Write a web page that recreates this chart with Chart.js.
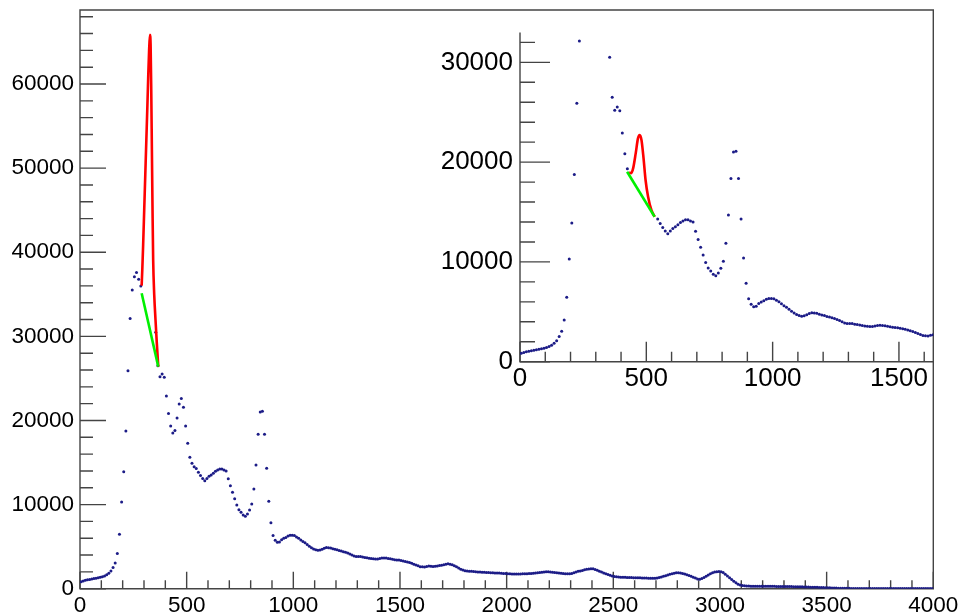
<!DOCTYPE html>
<html><head><meta charset="utf-8">
<script src="https://cdn.jsdelivr.net/npm/chart.js@4.4.0/dist/chart.umd.min.js"></script>
<style>
html,body{margin:0;padding:0;background:#fff;}
#wrap{position:relative;width:960px;height:615px;overflow:hidden;background:#fff;}
#main{position:absolute;left:0;top:0;}
#inset{position:absolute;left:420px;top:0;}
</style></head><body>
<div id="wrap"><canvas id="main" width="960" height="615"></canvas><canvas id="inset" width="540" height="400"></canvas></div>
<script>
// ---- data (bin width 10, bins from 0 to 4000) ----
const binStart = 0;
const binWidth = 10;
const counts = [
  840, 920, 990, 1050, 1100, 1150, 1200, 1250, 1300, 1360,
  1430, 1520, 1650, 1840, 2100, 2530, 3060, 4190, 6470, 10300,
  13900, 18750, 25900, 32130, 35500, 37100, 37600, 36800, 36000, null,
  null, null, null, null, null, 30500, 26500, 25200, 25520, 25150,
  22920, 20840, 19340, 18500, 18800, 20300, 21960, 22600, 21570, 19350,
  17290, 15620, 14900, 14500, 14300, 13850, 13450, 13090, 12830, 13100,
  13360, 13520, 13720, 13950, 14110, 14230, 14230, 14110, 13990, 13080,
  12250, 11460, 10700, 9950, 9400, 9080, 8770, 8610, 8890, 9360,
  10070, 11860, 14710, 18360, 21020, 21100, 18360, 14310, 10390, 7850,
  6310, 5750, 5510, 5550, 5830, 5990, 6100, 6260, 6340, 6340,
  6320, 6150, 6000, 5800, 5600, 5450, 5250, 5050, 4870, 4720,
  4620, 4560, 4600, 4700, 4820, 4900, 4880, 4850, 4750, 4680,
  4620, 4540, 4480, 4400, 4320, 4230, 4120, 4000, 3880, 3820,
  3830, 3820, 3760, 3720, 3680, 3620, 3580, 3560, 3530, 3540,
  3580, 3640, 3660, 3640, 3600, 3560, 3500, 3450, 3420, 3400,
  3360, 3300, 3240, 3180, 3100, 3020, 2920, 2820, 2720, 2620,
  2600, 2580, 2640, 2700, 2660, 2640, 2670, 2710, 2750, 2800,
  2850, 2920, 2960, 2920, 2840, 2720, 2600, 2460, 2320, 2220,
  2140, 2100, 2080, 2060, 2040, 2020, 2000, 1990, 1970, 1950,
  1930, 1920, 1900, 1890, 1880, 1870, 1860, 1840, 1820, 1800,
  1780, 1770, 1760, 1750, 1750, 1750, 1760, 1770, 1780, 1790,
  1800, 1820, 1840, 1870, 1900, 1930, 1960, 1990, 2010, 2020,
  1990, 1960, 1930, 1900, 1870, 1840, 1810, 1790, 1790, 1790,
  1820, 1900, 1990, 2060, 2110, 2170, 2240, 2300, 2350, 2380,
  2360, 2280, 2180, 2080, 1980, 1880, 1780, 1680, 1590, 1510,
  1450, 1410, 1390, 1370, 1360, 1350, 1340, 1330, 1320, 1310,
  1310, 1300, 1290, 1280, 1270, 1260, 1250, 1240, 1230, 1240,
  1280, 1330, 1400, 1470, 1550, 1640, 1720, 1790, 1850, 1890,
  1900, 1880, 1820, 1750, 1660, 1560, 1470, 1370, 1260, 1160,
  1120, 1200, 1320, 1480, 1640, 1780, 1900, 1990, 2030, 2040,
  2020, 1920, 1720, 1500, 1300, 1100, 900, 700, 540, 430,
  370, 340, 320, 310, 300, 300, 290, 290, 290, 290,
  290, 280, 280, 280, 280, 280, 270, 270, 270, 260,
  260, 260, 250, 250, 240, 240, 230, 230, 220, 210,
  200, 190, 180, 170, 160, 160, 150, 140, 130, 120,
  110, 100, 90, 80, 70, 60, 55, 50, 45, 40,
  40, 35, 35, 30, 30, 30, 25, 25, 25, 25,
  20, 20, 20, 20, 20, 20, 20, 20, 20, 20,
  20, 20, 15, 15, 15, 15, 15, 15, 15, 15,
  15, 15, 15, 15, 15, 10, 10, 10, 10, 10
];

// main-pad fit (peak + linear background)
const mainFitX = [289, 292, 296, 301, 306, 311, 316, 320, 324, 328, 331, 334, 337, 340, 343, 348, 354, 360, 367];
const mainFitY = [36030, 37900, 40870, 45030, 49190, 53350, 57500, 61070, 64040, 65840, 64640, 59290, 52170, 45030, 39080, 34920, 31950, 29220, 26400];
const mainBgX = [289, 367];
const mainBgY = [35130, 26400];

// inset fit
const insetFitX = [432, 440, 448, 458, 467, 474, 481, 489, 497, 507, 520, 533];
const insetFitY = [18950, 18900, 19400, 20880, 22380, 22720, 22200, 20400, 18210, 16530, 15200, 14530];
const insetBgX = [424, 533];
const insetBgY = [19040, 14530];
const insetFitRange = [430, 540];

// axes
const mainXRange = [0, 4000];
const mainYRange = [0, 68800];
const mainXTicks = [0, 500, 1000, 1500, 2000, 2500, 3000, 3500, 4000];
const mainYTicks = [0, 10000, 20000, 30000, 40000, 50000, 60000];
const insetXRange = [0, 1636];
const insetYRange = [0, 33000];
const insetXTicks = [0, 500, 1000, 1500];
const insetYTicks = [0, 10000, 20000, 30000];

// ---- drawing ----
const FONT = "'Liberation Sans', Arial, Helvetica, sans-serif";
const DOT = 'rgb(28,28,135)';

function histPoints(filterFn) {
  const pts = [];
  counts.forEach((c, i) => {
    if (c === null) return;
    const x = binStart + (i + 0.5) * binWidth;
    if (filterFn && !filterFn(x, c)) return;
    pts.push({x: x, y: c});
  });
  return pts;
}
function zipXY(xs, ys) { return xs.map((x, i) => ({x: x, y: ys[i]})); }

const rootAxes = {
  id: 'rootAxes',
  beforeDatasetsDraw(chart, args, o) {
    const ctx = chart.ctx, xs = chart.scales.x, ys = chart.scales.y, a = chart.chartArea;
    ctx.save();
    ctx.strokeStyle = o.color;
    ctx.lineWidth = o.lineWidth;
    ctx.lineCap = 'butt';
    ctx.beginPath();
    for (let v = xs.min; v <= xs.max + 1e-6; v += o.xMinor) {
      const px = xs.getPixelForValue(v);
      const major = Math.abs(v % o.xMajor) < 1e-6;
      const len = major ? o.xMajorLen : o.xMinorLen;
      ctx.moveTo(px, a.bottom); ctx.lineTo(px, a.bottom - len);
    }
    for (let v = ys.min; v <= ys.max + 1e-6; v += o.yMinor) {
      const py = ys.getPixelForValue(v);
      const major = Math.abs(v % o.yMajor) < 1e-6;
      const len = major ? o.yMajorLen : o.yMinorLen;
      ctx.moveTo(a.left, py); ctx.lineTo(a.left + len, py);
    }
    ctx.stroke();
    ctx.beginPath();
    if (o.frame) {
      ctx.rect(a.left, a.top, a.right - a.left, a.bottom - a.top);
    } else {
      ctx.moveTo(a.left, a.top); ctx.lineTo(a.left, a.bottom); ctx.lineTo(a.right, a.bottom);
    }
    ctx.stroke();
    ctx.restore();
  }
};

function makeChart(canvas, cfg) {
  return new Chart(canvas, {
    type: 'scatter',
    data: { datasets: [
      { data: zipXY(cfg.bgX, cfg.bgY), showLine: true, borderColor: 'rgb(0,240,0)', borderWidth: 2.6,
        pointRadius: 0, order: 0, clip: false },
      { data: zipXY(cfg.fitX, cfg.fitY), showLine: true, borderColor: 'rgb(255,0,0)', borderWidth: 2.6,
        pointRadius: 0, cubicInterpolationMode: 'monotone', order: 1, clip: false },
      { data: cfg.points, showLine: false, pointRadius: 1.5, pointBorderWidth: 0,
        backgroundColor: DOT, pointBackgroundColor: DOT, order: 2 }
    ]},
    options: {
      responsive: false, animation: false, devicePixelRatio: 1,
      layout: { padding: cfg.padding },
      plugins: { legend: {display: false}, tooltip: {enabled: false},
        rootAxes: cfg.axes },
      scales: {
        x: { type: 'linear', min: cfg.xRange[0], max: cfg.xRange[1],
          afterBuildTicks: s => { s.ticks = cfg.xTicks.map(v => ({value: v})); },
          afterFit: s => { s.height = cfg.xAxisH; s.paddingLeft = 0; s.paddingRight = 0; },
          grid: {display: false, drawTicks: false}, border: {display: false},
          ticks: { padding: cfg.xPad, color: '#000', font: {family: FONT, size: cfg.fontSize},
            maxRotation: 0, autoSkip: false, callback: v => String(v) } },
        y: { type: 'linear', min: cfg.yRange[0], max: cfg.yRange[1],
          afterBuildTicks: s => { s.ticks = cfg.yTicks.map(v => ({value: v})); },
          afterFit: s => { s.width = cfg.yAxisW; s.paddingTop = 0; s.paddingBottom = 0; },
          grid: {display: false, drawTicks: false}, border: {display: false},
          ticks: { padding: cfg.yPad, color: '#000', font: {family: FONT, size: cfg.fontSize},
            autoSkip: false, callback: v => String(v) } }
      }
    },
    plugins: [rootAxes]
  });
}

makeChart(document.getElementById('main'), {
  points: histPoints(),
  fitX: mainFitX, fitY: mainFitY, bgX: mainBgX, bgY: mainBgY,
  xRange: mainXRange, yRange: mainYRange, xTicks: mainXTicks, yTicks: mainYTicks,
  padding: {left: 0, top: 10, right: 26.7, bottom: 0},
  xAxisH: 26.3, yAxisW: 80, xPad: 4, yPad: 6, fontSize: 22.5,
  axes: { color: '#444', lineWidth: 1.4, frame: true,
    xMajor: 500, xMinor: 100, xMajorLen: 17, xMinorLen: 8.5,
    yMajor: 10000, yMinor: 2000, yMajorLen: 26, yMinorLen: 13 }
});

makeChart(document.getElementById('inset'), {
  points: histPoints((x, c) => c <= insetYRange[1] && x <= insetXRange[1] &&
    !(x >= insetFitRange[0] && x <= insetFitRange[1])),
  fitX: insetFitX, fitY: insetFitY, bgX: insetBgX, bgY: insetBgY,
  xRange: insetXRange, yRange: insetYRange, xTicks: insetXTicks, yTicks: insetYTicks,
  padding: {left: 0, top: 32.4, right: 26.7, bottom: 0},
  xAxisH: 38.3, yAxisW: 100, xPad: 2, yPad: 7, fontSize: 26,
  axes: { color: '#444', lineWidth: 1.4, frame: false,
    xMajor: 500, xMinor: 100, xMajorLen: 20, xMinorLen: 10,
    yMajor: 10000, yMinor: 2000, yMajorLen: 30, yMinorLen: 15 }
});
</script>
</body></html>
